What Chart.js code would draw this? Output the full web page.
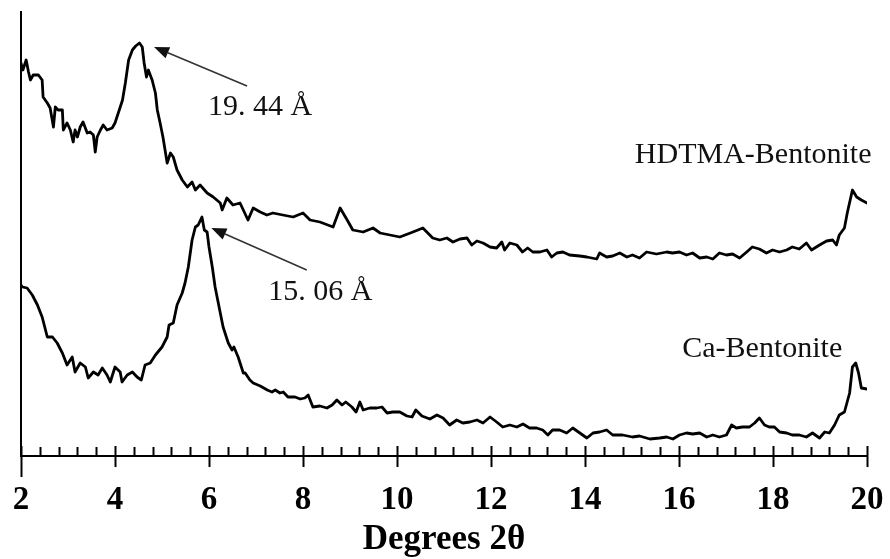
<!DOCTYPE html>
<html>
<head>
<meta charset="utf-8">
<script src="https://cdn.jsdelivr.net/npm/chart.js"></script>
<style>
  html, body { margin: 0; padding: 0; background: #fff; }
  #wrap { width: 890px; height: 559px; position: relative; }
</style>
</head>
<body>
<div id="wrap"><canvas id="xrdChart"></canvas></div>
<script>
// Difractograma de rayos X (intensidad en unidades arbitrarias)
const hdtmaTheta = [2.00, 2.04, 2.11, 2.16, 2.20, 2.26, 2.37, 2.45, 2.47, 2.56, 2.62, 2.69, 2.73, 2.79, 2.88, 2.90, 2.98, 3.05, 3.11, 3.15,
  3.20, 3.26, 3.32, 3.41, 3.47, 3.54, 3.58, 3.62, 3.69, 3.75, 3.83, 3.94, 4.00, 4.07, 4.16, 4.22, 4.29, 4.37, 4.44, 4.52,
  4.58, 4.62, 4.67, 4.71, 4.79, 4.86, 4.90, 4.96, 5.02, 5.11, 5.18, 5.24, 5.32, 5.43, 5.54, 5.64, 5.71, 5.81, 5.96, 6.09,
  6.24, 6.28, 6.38, 6.51, 6.66, 6.83, 6.94, 7.09, 7.23, 7.36, 7.57, 7.79, 8.00, 8.15, 8.36, 8.64, 8.79, 8.94, 9.06, 9.28,
  9.49, 9.64, 9.85, 10.06, 10.34, 10.55, 10.76, 10.91, 11.06, 11.19, 11.34, 11.49, 11.59, 11.70, 11.83, 11.98, 12.12, 12.23, 12.29, 12.40,
  12.55, 12.67, 12.78, 12.89, 13.04, 13.19, 13.29, 13.40, 13.53, 13.67, 13.89, 14.04, 14.25, 14.31, 14.46, 14.59, 14.74, 14.89, 15.01, 15.16,
  15.31, 15.52, 15.74, 15.86, 16.01, 16.16, 16.29, 16.44, 16.59, 16.72, 16.86, 17.01, 17.14, 17.29, 17.44, 17.56, 17.71, 17.86, 17.99, 18.14,
  18.29, 18.41, 18.56, 18.71, 18.82, 18.99, 19.14, 19.27, 19.35, 19.41, 19.52, 19.58, 19.69, 19.78, 19.88, 20.00];
const hdtmaCounts = [393, 386, 396, 384, 376, 381, 381, 376, 359, 353, 348, 329, 349, 346, 346, 326, 333, 326, 314, 326,
  319, 329, 334, 323, 324, 321, 304, 319, 326, 331, 326, 328, 333, 343, 356, 373, 396, 406, 410, 413,
  409, 393, 379, 386, 376, 363, 346, 333, 319, 293, 303, 299, 286, 276, 269, 274, 266, 271, 263, 259,
  253, 246, 258, 251, 253, 236, 248, 244, 241, 243, 241, 239, 243, 236, 234, 229, 248, 236, 226, 224,
  228, 223, 221, 219, 224, 228, 218, 216, 218, 214, 217, 218, 211, 215, 213, 209, 208, 214, 206, 213,
  211, 204, 208, 204, 204, 206, 199, 203, 204, 201, 200, 199, 197, 203, 199, 200, 203, 199, 201, 198,
  204, 202, 204, 203, 204, 201, 203, 198, 199, 197, 203, 201, 202, 198, 204, 209, 207, 203, 206, 204,
  206, 209, 207, 213, 206, 211, 215, 216, 211, 221, 228, 243, 266, 259, 256, 253];

const caTheta = [2.00, 2.03, 2.13, 2.24, 2.35, 2.45, 2.56, 2.67, 2.77, 2.88, 2.98, 3.09, 3.15, 3.26, 3.37, 3.43, 3.54, 3.64, 3.73, 3.83,
  3.90, 4.00, 4.11, 4.15, 4.26, 4.37, 4.47, 4.56, 4.64, 4.75, 4.86, 5.00, 5.11, 5.15, 5.24, 5.32, 5.43, 5.49, 5.56, 5.64,
  5.71, 5.77, 5.85, 5.90, 5.96, 6.00, 6.07, 6.13, 6.24, 6.30, 6.41, 6.49, 6.53, 6.62, 6.73, 6.77, 6.87, 6.94, 7.09, 7.24,
  7.34, 7.41, 7.51, 7.58, 7.68, 7.83, 7.94, 8.04, 8.11, 8.21, 8.36, 8.51, 8.62, 8.72, 8.83, 8.91, 9.04, 9.13, 9.21, 9.28,
  9.42, 9.57, 9.68, 9.79, 9.91, 10.06, 10.21, 10.32, 10.40, 10.53, 10.70, 10.85, 10.98, 11.12, 11.27, 11.40, 11.55, 11.70, 11.83, 11.98,
  12.12, 12.25, 12.40, 12.55, 12.68, 12.82, 12.97, 13.10, 13.21, 13.31, 13.46, 13.61, 13.74, 13.89, 14.04, 14.17, 14.31, 14.46, 14.59, 14.80,
  15.01, 15.16, 15.38, 15.59, 15.74, 15.87, 16.01, 16.16, 16.29, 16.44, 16.59, 16.72, 16.86, 17.01, 17.12, 17.22, 17.35, 17.50, 17.61, 17.71,
  17.82, 17.92, 18.03, 18.14, 18.29, 18.41, 18.56, 18.71, 18.84, 18.99, 19.10, 19.20, 19.31, 19.41, 19.52, 19.63, 19.69, 19.76, 19.82, 19.88, 20.00];
const caCounts = [171, 169, 168, 161, 151, 139, 119, 119, 113, 103, 91, 99, 84, 93, 89, 78, 84, 81, 88, 81,
  74, 89, 84, 74, 81, 84, 79, 76, 91, 93, 101, 109, 119, 131, 133, 151, 163, 173, 189, 216,
  229, 231, 239, 226, 224, 209, 189, 169, 143, 129, 113, 106, 109, 99, 83, 83, 76, 73, 70, 66,
  64, 66, 63, 64, 59, 59, 57, 58, 61, 49, 50, 48, 51, 56, 51, 54, 49, 44, 54, 46,
  48, 48, 49, 43, 44, 44, 40, 39, 46, 40, 37, 41, 38, 31, 36, 33, 34, 36, 33, 39,
  34, 29, 31, 29, 32, 28, 28, 26, 21, 26, 26, 23, 28, 23, 18, 23, 24, 26, 21, 21,
  19, 20, 17, 18, 19, 17, 21, 23, 22, 23, 19, 21, 19, 21, 31, 28, 29, 29, 33, 38,
  31, 29, 29, 24, 23, 21, 21, 19, 23, 18, 24, 23, 31, 41, 44, 63, 89, 93, 83, 68, 67];

const xTicks = [2, 4, 6, 8, 10, 12, 14, 16, 18, 20];

// Etiquetas y flechas (coordenadas en unidades de datos)
const notes = [
  { text: 'HDTMA-Bentonite', x: 15.06, y: 301 },
  { text: 'Ca-Bentonite', x: 16.07, y: 107 },
  { text: '19. 44 Å', x: 5.98, y: 349, arrow: { from: [6.81, 370], to: [4.83, 409] } },
  { text: '15. 06 Å', x: 7.26, y: 164, arrow: { from: [8.08, 186], to: [6.05, 228] } }
];

function toPoints(xs, ys) {
  return xs.map((x, i) => ({ x: x, y: ys[i] }));
}

// Marcas del eje X: principales cada 2 y secundarias cada 0.4
const tickMarks = {
  id: 'tickMarks',
  afterDraw(chart) {
    const ctx = chart.ctx;
    const sx = chart.scales.x;
    const base = chart.chartArea.bottom;
    ctx.save();
    ctx.strokeStyle = '#000';
    ctx.lineWidth = 2;
    for (let i = 0; i <= 45; i++) {
      const px = Math.round(sx.getPixelForValue(2 + i * 0.4)) + 0.5;
      ctx.beginPath();
      if (i % 5 === 0) {
        ctx.moveTo(px, base - 10);
        ctx.lineTo(px, base + (i === 0 ? 21 : 11));
      } else {
        ctx.moveTo(px, base - 9);
        ctx.lineTo(px, base);
      }
      ctx.stroke();
    }
    ctx.restore();
  }
};

const notesPlugin = {
  id: 'notes',
  afterDraw(chart) {
    const ctx = chart.ctx;
    const sx = chart.scales.x, sy = chart.scales.y;
    ctx.save();
    ctx.font = '30px "Liberation Serif", "Times New Roman", serif';
    ctx.textAlign = 'left';
    ctx.textBaseline = 'middle';
    notes.forEach(n => {
      ctx.fillStyle = '#111';
      ctx.fillText(n.text, sx.getPixelForValue(n.x), sy.getPixelForValue(n.y));
      if (!n.arrow) return;
      const x1 = sx.getPixelForValue(n.arrow.from[0]), y1 = sy.getPixelForValue(n.arrow.from[1]);
      const x2 = sx.getPixelForValue(n.arrow.to[0]), y2 = sy.getPixelForValue(n.arrow.to[1]);
      const ang = Math.atan2(y2 - y1, x2 - x1);
      const len = 15, half = 6;
      const bx = x2 - len * Math.cos(ang), by = y2 - len * Math.sin(ang);
      ctx.strokeStyle = '#333';
      ctx.lineWidth = 1.6;
      ctx.beginPath();
      ctx.moveTo(x1, y1);
      ctx.lineTo(bx, by);
      ctx.stroke();
      ctx.beginPath();
      ctx.moveTo(x2, y2);
      ctx.lineTo(bx - half * Math.sin(ang), by + half * Math.cos(ang));
      ctx.lineTo(bx + half * Math.sin(ang), by - half * Math.cos(ang));
      ctx.closePath();
      ctx.fill();
    });
    ctx.restore();
  }
};

new Chart(document.getElementById('xrdChart'), {
  type: 'line',
  data: {
    datasets: [
      { label: 'HDTMA-Bentonite', data: toPoints(hdtmaTheta, hdtmaCounts) },
      { label: 'Ca-Bentonite', data: toPoints(caTheta, caCounts) }
    ]
  },
  options: {
    responsive: true,
    maintainAspectRatio: false,
    animation: false,
    layout: { padding: { top: 12, left: 21, right: 23, bottom: 0 } },
    elements: {
      line: { borderColor: '#000', borderWidth: 2.8, tension: 0, fill: false, borderJoinStyle: 'round', borderCapStyle: 'round' },
      point: { radius: 0, hoverRadius: 0 }
    },
    plugins: { legend: { display: false }, tooltip: { enabled: false } },
    scales: {
      x: {
        type: 'linear',
        min: 2,
        max: 20,
        afterBuildTicks: (scale) => { scale.ticks = xTicks.map(v => ({ value: v })); },
        afterFit: (scale) => { scale.height = 103; scale.paddingLeft = 0; scale.paddingRight = 0; },
        grid: { display: false, drawTicks: false },
        border: { display: true, color: '#000', width: 2 },
        ticks: {
          color: '#000',
          padding: 28,
          maxRotation: 0,
          font: { family: '"Liberation Serif", "Times New Roman", serif', size: 33, weight: 'bold', lineHeight: 1 }
        },
        title: {
          display: true,
          text: 'Degrees 2θ',
          color: '#000',
          padding: { top: 4, bottom: 2 },
          font: { family: '"Liberation Serif", "Times New Roman", serif', size: 35, weight: 'bold', lineHeight: 1 }
        }
      },
      y: {
        min: 0,
        max: 444,
        afterFit: (scale) => { scale.width = 0; },
        grid: { display: false, drawTicks: false },
        border: { display: true, color: '#000', width: 2 },
        ticks: { display: false }
      }
    }
  },
  plugins: [tickMarks, notesPlugin]
});
</script>
</body>
</html>
